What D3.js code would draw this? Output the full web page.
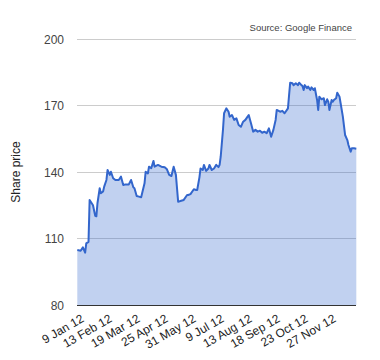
<!DOCTYPE html>
<html>
<head>
<meta charset="utf-8">
<script src="https://cdn.jsdelivr.net/npm/d3@7"></script>
<style>
  html, body { margin: 0; padding: 0; background: #fff; }
  svg { display: block; font-family: "Liberation Sans", Arial, sans-serif; }
</style>
</head>
<body>
<svg id="chart" width="380" height="360"></svg>
<script>
// Trading-day index (0 = 3 Jan 2012, 249 = 31 Dec 2012) and closing share price
const days = [0,3,5,7,8,10,11,12,14,16,17,18,20,21,23,24,26,27,29,30,32,34,37,39,41,43,46,48,50,51,53,55,57,60,61,63,64,66,68,69,72,75,78,80,82,84,86,88,90,92,95,98,99,101,104,106,107,109,110,112,113,115,117,118,120,122,124,126,127,128,130,131,133,135,136,138,140,142,144,146,148,150,152,153,155,157,159,161,163,165,167,169,171,173,175,177,178,181,183,185,188,189,190,192,193,195,197,198,200,201,202,203,205,206,208,209,211,212,214,215,216,218,220,221,223,224,225,227,228,229,231,232,234,235,237,239,241,242,244,245,247,249];
const prices = [104.8,104.5,106.0,103.6,107.8,108.5,127.4,126.6,125.0,120.2,120.0,125.9,132.7,130.4,131.2,133.4,136.4,140.9,138.7,140.1,137.2,136.4,136.4,137.9,134.1,134.4,134.4,136.4,133.1,132.7,129.2,128.9,128.6,134.9,140.1,139.4,142.4,141.7,145.0,142.4,143.2,142.4,142.1,141.2,138.7,138.2,142.4,138.7,126.6,126.9,127.4,129.6,129.6,130.0,132.2,131.9,131.9,137.6,141.6,140.9,143.2,140.5,141.6,143.2,140.9,141.6,143.2,142.2,143.2,147.0,159.0,166.5,168.7,167.2,164.9,165.7,163.5,164.2,161.2,160.4,162.7,163.5,165.0,165.7,162.0,158.2,159.0,158.2,158.6,157.7,158.2,157.5,159.7,155.9,159.0,163.5,168.0,167.2,167.6,166.5,168.7,174.7,180.3,180.0,179.2,180.0,179.2,180.3,179.2,178.8,177.0,179.2,177.8,178.5,177.0,178.2,177.0,177.8,172.5,168.0,174.0,172.8,173.3,170.2,172.8,171.7,168.0,172.5,171.7,172.5,173.3,175.8,174.0,171.0,165.0,156.7,154.4,152.2,149.2,150.7,150.7,150.5];
const yTicks = [80, 110, 140, 170, 200];
const xTickDays = [4, 29, 54, 79, 104, 129, 154, 179, 204, 229];
const xTickLabels = ["9 Jan 12","13 Feb 12","19 Mar 12","25 Apr 12","31 May 12","9 Jul 12","13 Aug 12","18 Sep 12","23 Oct 12","27 Nov 12"];
const yTitle = "Share price";
const sourceNote = "Source: Google Finance";

const data = days.map((d, i) => ({ d, v: prices[i] }));

const svg = d3.select("#chart");
const pL = 77.3, pR = 356.3, pT = 39, pB = 305;

const x = d3.scaleLinear().domain([0, 249]).range([pL, pR]);
const y = d3.scaleLinear().domain([80, 200]).range([pB, pT]);

// gridlines
svg.append("g").selectAll("line").data(yTicks.filter(t => t !== 80)).join("line")
  .attr("x1", pL).attr("x2", pR)
  .attr("y1", d => y(d)).attr("y2", d => y(d))
  .attr("stroke", "#cccccc").attr("stroke-width", 1)
  .attr("shape-rendering", "crispEdges");

// area
svg.append("path").datum(data)
  .attr("d", d3.area().x(p => x(p.d)).y0(y(80)).y1(p => y(p.v)))
  .attr("fill", "#3366cc").attr("fill-opacity", 0.3);

// line
svg.append("path").datum(data)
  .attr("d", d3.line().x(p => x(p.d)).y(p => y(p.v)))
  .attr("fill", "none").attr("stroke", "#3366cc").attr("stroke-width", 2)
  .attr("stroke-linejoin", "round");

// baseline
svg.append("line")
  .attr("x1", pL).attr("x2", pR)
  .attr("y1", y(80)).attr("y2", y(80))
  .attr("stroke", "#333333").attr("stroke-width", 1)
  .attr("shape-rendering", "crispEdges");

// y tick labels
svg.append("g").selectAll("text").data(yTicks).join("text")
  .attr("x", 64).attr("y", d => y(d) + 4.5)
  .attr("text-anchor", "end").attr("font-size", 12).attr("fill", "#444444")
  .text(d => d);

// x tick labels
svg.append("g").selectAll("text").data(xTickDays).join("text")
  .attr("transform", d => `translate(${x(d) + 3},${pB + 16}) rotate(-30)`)
  .attr("text-anchor", "end").attr("font-size", 12).attr("fill", "#222222")
  .text((d, i) => xTickLabels[i]);

// y axis title
svg.append("text")
  .attr("transform", `translate(20,${(pT + pB) / 2}) rotate(-90)`)
  .attr("text-anchor", "middle").attr("font-size", 12).attr("fill", "#222222")
  .text(yTitle);

// source note
svg.append("text")
  .attr("x", 352).attr("y", 31)
  .attr("text-anchor", "end").attr("font-size", 9.5).attr("fill", "#444444")
  .text(sourceNote);
</script>
</body>
</html>
